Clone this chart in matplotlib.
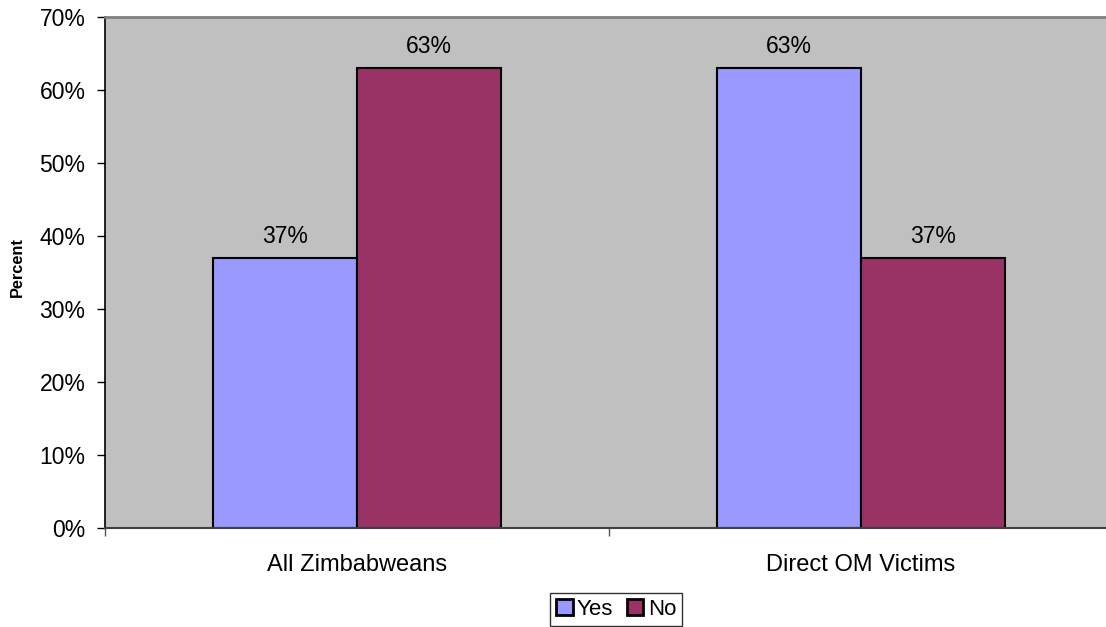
import matplotlib
matplotlib.use("Agg")
import matplotlib.pyplot as plt
import numpy as np

categories = ["All Zimbabweans", "Direct OM Victims"]
series_names = ["Yes", "No"]
yes_values = [37, 63]
no_values = [63, 37]
colors = ["#9999FF", "#993366"]
yticks = [0, 10, 20, 30, 40, 50, 60, 70]

plt.rcParams['font.family'] = ['Liberation Sans', 'DejaVu Sans']

W, H = 1106, 627
fig = plt.figure(figsize=(W / 100, H / 100), dpi=100)
ax = fig.add_axes([105 / W, (H - 528) / H, (1113 - 105) / W, (528 - 17) / H])
ax.set_facecolor("#C0C0C0")

x = np.arange(len(categories))
bw = 144 / 504
b1 = ax.bar(x - bw / 2, yes_values, bw, color=colors[0], edgecolor="black", linewidth=1.5, label=series_names[0])
b2 = ax.bar(x + bw / 2, no_values, bw, color=colors[1], edgecolor="black", linewidth=1.5, label=series_names[1])
for bars in (b1, b2):
    ax.bar_label(bars, labels=[f"{v}%" for v in bars.datavalues], padding=7, fontsize=16.5)

ax.set_xlim(-0.5, len(categories) - 0.5)
ax.set_ylim(0, 70)
ax.set_yticks(yticks)
ax.set_yticklabels([f"{t}%" for t in yticks], fontsize=16.5)
ax.tick_params(axis='y', length=6, width=1, pad=8, direction='out')
ax.set_xticks(x)
ax.set_xticklabels(categories, fontsize=17)
ax.tick_params(axis='x', which='major', length=0, pad=19)
ax.set_xticks(np.arange(len(categories) + 1) - 0.5, minor=True)
ax.tick_params(axis='x', which='minor', length=6, width=1, color="#555555", direction='out')

ax.spines['left'].set_color('black')
ax.spines['left'].set_linewidth(1.2)
ax.spines['bottom'].set_color('#404040')
ax.spines['bottom'].set_linewidth(1.5)
ax.spines['top'].set_color('#808080')
ax.spines['top'].set_linewidth(2)
ax.spines['right'].set_visible(False)

fig.text(17 / W, 1 - 267 / H, "Percent", rotation=90, fontsize=11.8, fontweight='bold', ha='center', va='center')

leg = fig.legend(handles=[b1, b2], labels=series_names, loc='center', bbox_to_anchor=(616 / W, 1 - 609.5 / H),
                 ncol=2, fontsize=16, frameon=True, fancybox=False, edgecolor='black',
                 handlelength=0.75, handleheight=0.75, handletextpad=0.2, columnspacing=0.6,
                 borderpad=0.25, borderaxespad=0)
leg.get_frame().set_linewidth(1)
for h in leg.legend_handles:
    h.set_linewidth(2)

fig.savefig("out.png", dpi=100)
